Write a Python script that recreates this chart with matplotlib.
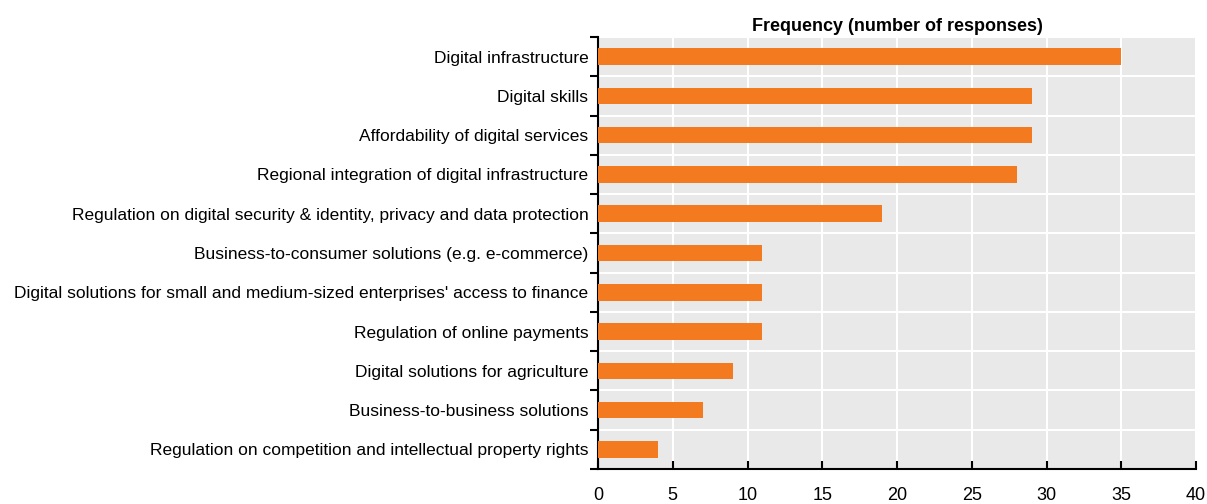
import matplotlib
matplotlib.use("Agg")
import matplotlib.pyplot as plt
import numpy as np

categories = [
    "Digital infrastructure",
    "Digital skills",
    "Affordability of digital services",
    "Regional integration of digital infrastructure",
    "Regulation on digital security & identity, privacy and data protection",
    "Business-to-consumer solutions (e.g. e-commerce)",
    "Digital solutions for small and medium-sized enterprises' access to finance",
    "Regulation of online payments",
    "Digital solutions for agriculture",
    "Business-to-business solutions",
    "Regulation on competition and intellectual property rights",
]
values = [35, 29, 29, 28, 19, 11, 11, 11, 9, 7, 4]
x_ticks = [0, 5, 10, 15, 20, 25, 30, 35, 40]
title = "Frequency (number of responses)"

plt.rcParams["font.family"] = ["Liberation Sans", "DejaVu Sans"]

fig = plt.figure(figsize=(12.07, 5.04), dpi=100)
ax = fig.add_axes([598/1207, 1-469/504, (1196-598)/1207, (469-37)/504])
ax.set_facecolor("#E9E9E9")

n = len(categories)
y = np.arange(n)
ax.barh(y, values, height=0.42, color="#F47A20", zorder=3)
ax.set_ylim(n - 0.5, -0.5)
ax.set_xlim(0, 40)

ax.set_yticks(y)
ax.set_yticklabels(categories, fontsize=12.5)
ax.tick_params(axis="y", which="major", length=0, pad=7)
ax.set_yticks(np.arange(-0.5, n, 1), minor=True)
ax.tick_params(axis="y", which="minor", length=6, width=1.5, direction="out", color="black")

ax.set_xticks(x_ticks)
ax.set_xticklabels([str(t) for t in x_ticks], fontsize=13)
ax.tick_params(axis="x", which="major", length=6, width=1.5, direction="in", pad=13, color="black")

ax.grid(True, which="major", axis="x", color="white", linewidth=1.5, zorder=1)
ax.grid(True, which="minor", axis="y", color="white", linewidth=1.5, zorder=1)
ax.set_axisbelow(True)

for s in ["top", "right"]:
    ax.spines[s].set_visible(False)
for s in ["left", "bottom"]:
    ax.spines[s].set_linewidth(1.5)
    ax.spines[s].set_color("black")

ax.set_title(title, fontsize=13, fontweight="bold", pad=4)

fig.savefig("out.png", dpi=100)
